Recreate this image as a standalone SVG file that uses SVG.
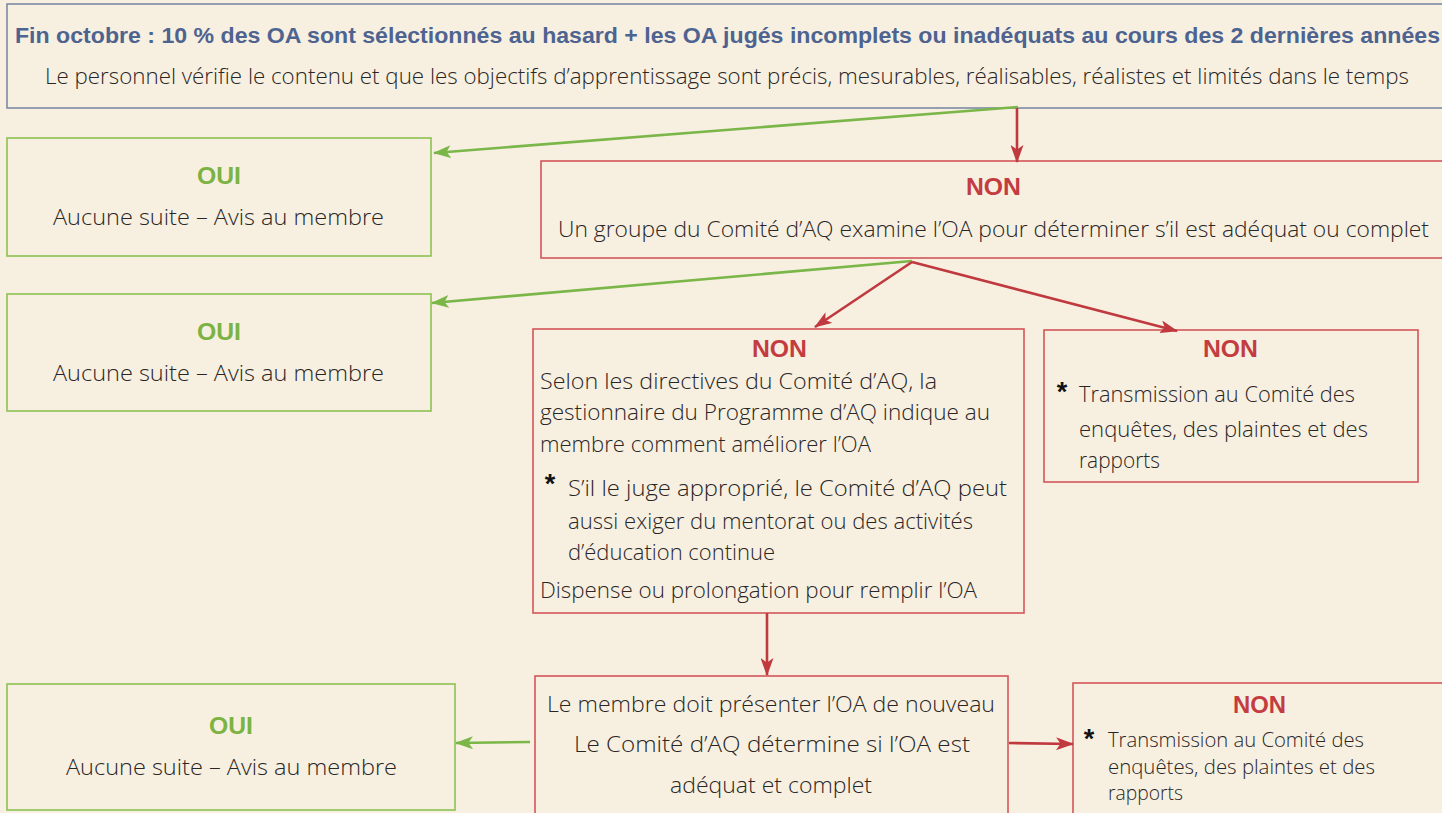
<svg xmlns="http://www.w3.org/2000/svg" width="1442" height="813" viewBox="0 0 1442 813">
<style>
.bg{fill:#f7f0e1}
.box{fill:none;stroke-width:1.6}
.blue{stroke:#7d8aa6}
.grn{stroke:#8dc152}
.red{stroke:#d4555a}
text{font-family:"Liberation Sans",Arial,sans-serif}
.t{fill:#2a2626;font-size:22px;font-family:"Open Sans","Liberation Sans",Arial,sans-serif;font-weight:300}
.title{fill:#4e6390;font-size:22px;font-weight:bold}
.oui{fill:#7cb342;font-size:23px;font-weight:bold}
.non{fill:#c43c40;font-size:23px;font-weight:bold}
.star{fill:#111;font-size:27px;font-weight:bold}
.cg{stroke:#7ab648;stroke-width:2.6;fill:none}
.cr{stroke:#c0393f;stroke-width:2.6;fill:none}
</style>
<defs>
<marker id="ag" markerUnits="userSpaceOnUse" markerWidth="18" markerHeight="13" viewBox="0 0 18 13" refX="17" refY="6.5" orient="auto"><path d="M0,0 L18,6.5 L0,13 L4.5,6.5 z" fill="#7ab648"/></marker>
<marker id="ar" markerUnits="userSpaceOnUse" markerWidth="18" markerHeight="13" viewBox="0 0 18 13" refX="17" refY="6.5" orient="auto"><path d="M0,0 L18,6.5 L0,13 L4.5,6.5 z" fill="#c0393f"/></marker>
</defs>
<rect class="bg" x="0" y="0" width="1442" height="813"/>

<g id="top">
<rect class="box blue" x="7" y="4" width="1450" height="104"/>
<text class="title" x="15" y="43" textLength="1425" lengthAdjust="spacingAndGlyphs">Fin octobre : 10 % des OA sont sélectionnés au hasard + les OA jugés incomplets ou inadéquats au cours des 2 dernières années</text>
<text class="t" x="45" y="84" textLength="1364" lengthAdjust="spacingAndGlyphs">Le personnel vérifie le contenu et que les objectifs d’apprentissage sont précis, mesurables, réalisables, réalistes et limités dans le temps</text>
</g>

<g id="oui1">
<rect class="box grn" x="7" y="138" width="424" height="118"/>
<text class="oui" x="219" y="184" text-anchor="middle" textLength="44" lengthAdjust="spacingAndGlyphs">OUI</text>
<text class="t" x="53" y="225" textLength="331" lengthAdjust="spacingAndGlyphs">Aucune suite – Avis au membre</text>
</g>

<g id="non1">
<rect class="box red" x="541" y="161" width="920" height="97"/>
<text class="non" x="966" y="195" textLength="55" lengthAdjust="spacingAndGlyphs">NON</text>
<text class="t" x="558" y="237" textLength="871" lengthAdjust="spacingAndGlyphs">Un groupe du Comité d’AQ examine l’OA pour déterminer s’il est adéquat ou complet</text>
</g>

<g id="oui2">
<rect class="box grn" x="7" y="294" width="424" height="117"/>
<text class="oui" x="219" y="340" text-anchor="middle" textLength="44" lengthAdjust="spacingAndGlyphs">OUI</text>
<text class="t" x="53" y="381" textLength="331" lengthAdjust="spacingAndGlyphs">Aucune suite – Avis au membre</text>
</g>

<g id="non2">
<rect class="box red" x="533" y="329" width="491" height="284"/>
<text class="non" x="752" y="357" textLength="55" lengthAdjust="spacingAndGlyphs">NON</text>
<text class="t" x="540" y="389" textLength="397" lengthAdjust="spacingAndGlyphs">Selon les directives du Comité d’AQ, la</text>
<text class="t" x="540" y="420" textLength="450" lengthAdjust="spacingAndGlyphs">gestionnaire du Programme d’AQ indique au</text>
<text class="t" x="540" y="452" textLength="331" lengthAdjust="spacingAndGlyphs">membre comment améliorer l’OA</text>
<text class="star" x="550" y="493" text-anchor="middle">*</text>
<text class="t" x="568" y="496" textLength="439" lengthAdjust="spacingAndGlyphs">S’il le juge approprié, le Comité d’AQ peut</text>
<text class="t" x="568" y="529" textLength="405" lengthAdjust="spacingAndGlyphs">aussi exiger du mentorat ou des activités</text>
<text class="t" x="568" y="560" textLength="207" lengthAdjust="spacingAndGlyphs">d’éducation continue</text>
<text class="t" x="540" y="598" textLength="437" lengthAdjust="spacingAndGlyphs">Dispense ou prolongation pour remplir l’OA</text>
</g>

<g id="non3">
<rect class="box red" x="1044" y="330" width="374" height="152"/>
<text class="non" x="1203" y="357" textLength="55" lengthAdjust="spacingAndGlyphs">NON</text>
<text class="star" x="1062" y="401" text-anchor="middle">*</text>
<text class="t" x="1079" y="402" textLength="276" lengthAdjust="spacingAndGlyphs">Transmission au Comité des</text>
<text class="t" x="1079" y="437" textLength="289" lengthAdjust="spacingAndGlyphs">enquêtes, des plaintes et des</text>
<text class="t" x="1079" y="468" textLength="81" lengthAdjust="spacingAndGlyphs">rapports</text>
</g>

<g id="resubmit">
<rect class="box red" x="535" y="676" width="473" height="150"/>
<text class="t" x="547" y="712" textLength="448" lengthAdjust="spacingAndGlyphs">Le membre doit présenter l’OA de nouveau</text>
<text class="t" x="574" y="752" textLength="396" lengthAdjust="spacingAndGlyphs">Le Comité d’AQ détermine si l’OA est</text>
<text class="t" x="670" y="793" textLength="202" lengthAdjust="spacingAndGlyphs">adéquat et complet</text>
</g>

<g id="oui3">
<rect class="box grn" x="7" y="684" width="448" height="126"/>
<text class="oui" x="231" y="734" text-anchor="middle" textLength="44" lengthAdjust="spacingAndGlyphs">OUI</text>
<text class="t" x="66" y="775" textLength="331" lengthAdjust="spacingAndGlyphs">Aucune suite – Avis au membre</text>
</g>

<g id="non4">
<rect class="box red" x="1073" y="683" width="400" height="150"/>
<text class="non" x="1233" y="713" textLength="53" lengthAdjust="spacingAndGlyphs">NON</text>
<text class="star" x="1089" y="748" text-anchor="middle">*</text>
<text class="t" x="1108" y="747" style="font-size:20px" textLength="256" lengthAdjust="spacingAndGlyphs">Transmission au Comité des</text>
<text class="t" x="1108" y="774" style="font-size:20px" textLength="267" lengthAdjust="spacingAndGlyphs">enquêtes, des plaintes et des</text>
<text class="t" x="1108" y="800" style="font-size:20px" textLength="75" lengthAdjust="spacingAndGlyphs">rapports</text>
</g>

<g id="connectors">
<path class="cg" d="M1018,107 L434,153" marker-end="url(#ag)"/>
<path class="cr" d="M1017,108 L1017,162" marker-end="url(#ar)"/>
<path class="cg" d="M912,261 L432,303" marker-end="url(#ag)"/>
<path class="cr" d="M912,262 L815,327" marker-end="url(#ar)"/>
<path class="cr" d="M912,262 L1177,331" marker-end="url(#ar)"/>
<path class="cr" d="M767,613 L767,675" marker-end="url(#ar)"/>
<path class="cg" d="M530,742 L456,743" marker-end="url(#ag)"/>
<path class="cr" d="M1009,743 L1073,744" marker-end="url(#ar)"/>
</g>
</svg>
